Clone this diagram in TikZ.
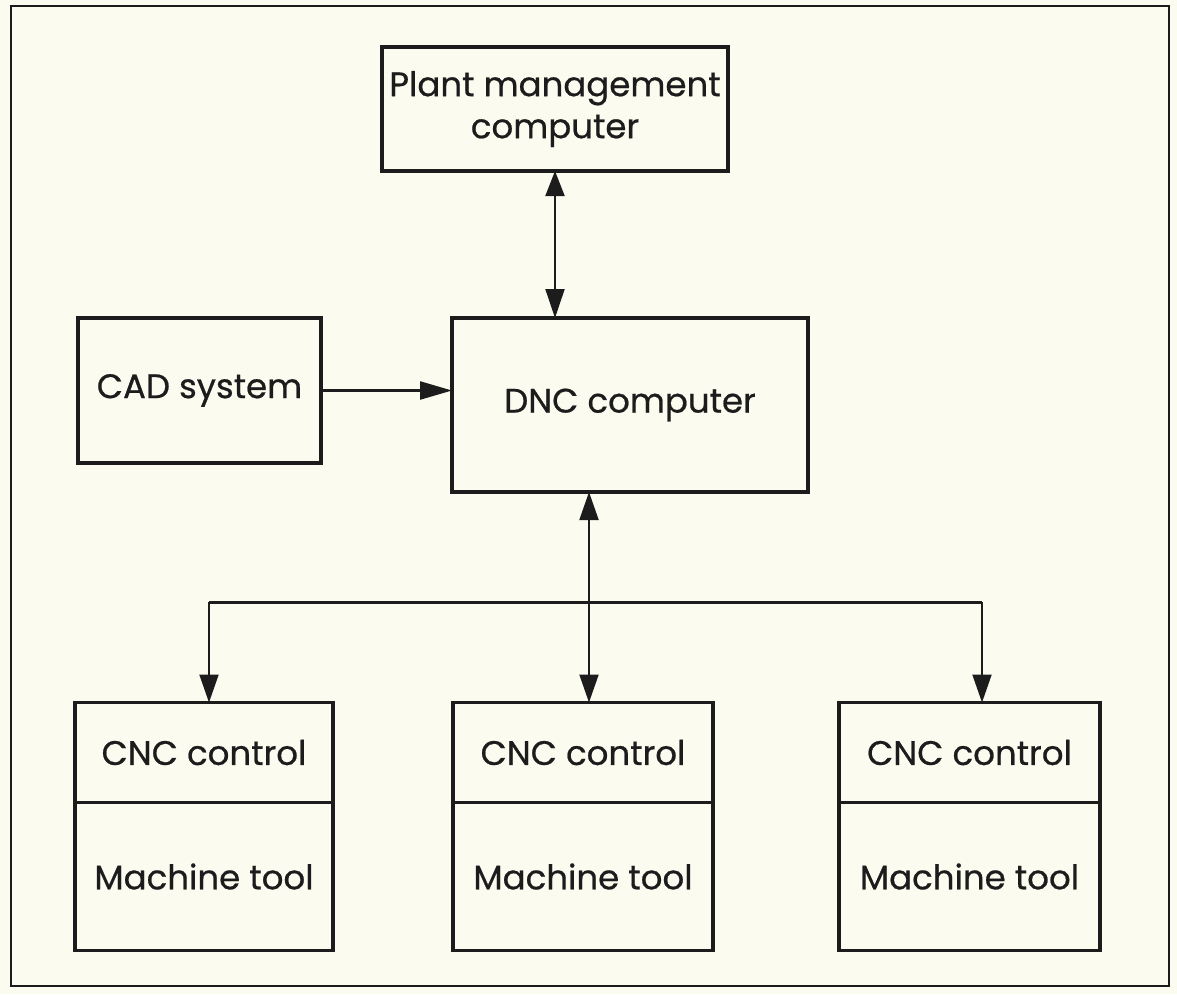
\documentclass[tikz,border=0pt]{standalone}
\usepackage{fontspec}
\setmainfont{Poppins}
\newfontfamily\labelfont{Poppins}[FakeBold=0.6]
\usetikzlibrary{arrows.meta,positioning}
\definecolor{paper}{RGB}{251,251,240}
\definecolor{ink}{RGB}{28,28,28}
\begin{document}
\begin{tikzpicture}[x=1pt,y=-1pt,
  every node/.style={font=\labelfont\fontsize{34}{42}\selectfont, text=ink},
  unit/.style={draw=ink, line width=3.4pt, inner sep=0pt, outer sep=0pt, align=center},
  link/.style={draw=ink, line width=2pt},
  bus/.style={draw=ink, line width=3pt},
  tip/.style={-{Triangle[length=28pt,width=19pt]}},
  duo/.style={{Triangle[length=25pt,width=19pt]}-{Triangle[length=29pt,width=19pt]}},
]
% paper and outer frame
\fill[paper] (0,0) rectangle (1177,994);
\draw[ink, line width=2.8pt] (11,6) rectangle (1169,986);

% computers
\node[unit, minimum width=346pt, minimum height=124pt] (plant) at (555,109)
  {Plant management\\computer};
\node[unit, minimum width=356pt, minimum height=174pt] (dnc) at (630,405)
  {DNC computer};
\node[unit, minimum width=243pt, minimum height=145pt] (cad) at (199.5,390.5)
  {CAD system};

% machine cells: control on top, machine tool below
\foreach \i/\cx/\w in {1/204/258, 2/583/260, 3/969.5/261}{
  \node[unit, minimum width=\w pt, minimum height=100pt] (cnc\i) at (\cx,752.5) {CNC control};
  \node[unit, minimum width=\w pt, minimum height=148pt, anchor=north] (mt\i) at (cnc\i.south) {Machine tool};
}

% bus junctions
\coordinate (j)  at (589,602);
\coordinate (b1) at (209,602);
\coordinate (b3) at (982,602);

% connectors
\draw[link, duo] (plant.south) -- (plant.south |- dnc.north);
\draw[link, line width=2.4pt, -{Triangle[length=32pt,width=18pt]}] (cad.east) -- (cad.east -| dnc.west);
\draw[link, {Triangle[length=28pt,width=19pt]}-] (dnc.south -| j) -- (j);
\draw[bus] (b1) -- (b3);
\draw[link, tip] (b1) -- (b1 |- cnc1.north);
\draw[link, tip] (j) -- (j |- cnc2.north);
\draw[link, tip] (b3) -- (b3 |- cnc3.north);
\end{tikzpicture}
\end{document}
